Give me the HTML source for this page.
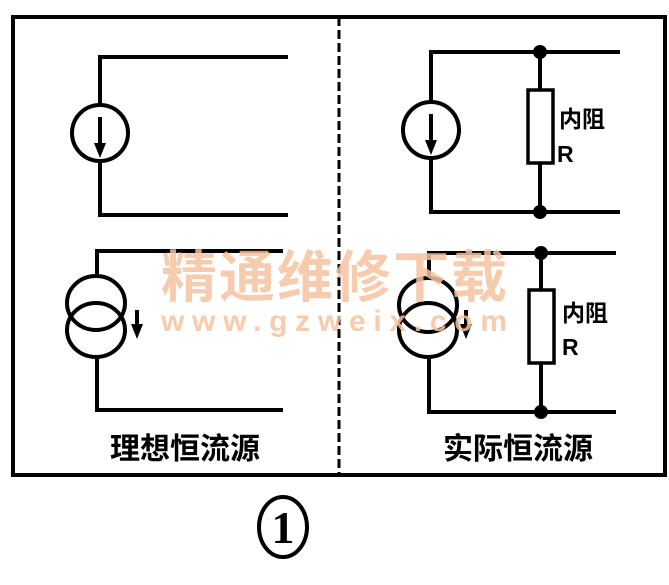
<!DOCTYPE html>
<html><head><meta charset="utf-8"><style>
html,body{margin:0;padding:0;background:#fff;width:669px;height:585px;overflow:hidden}
</style></head><body>
<svg width="669" height="585" viewBox="0 0 669 585" xmlns="http://www.w3.org/2000/svg">
<g fill="none" stroke="#000" stroke-width="4">
<rect x="13" y="17" width="652" height="458"/>
<line x1="339" y1="17" x2="339" y2="475" stroke-dasharray="9,4" stroke-width="3"/>
<polyline points="288,57 100,57 100,105"/>
<polyline points="100,161 100,215 288,215"/>
<ellipse cx="100" cy="133" rx="28" ry="28"/>
<line x1="100" y1="117" x2="100" y2="145"/>
<polyline points="283,251 97,251 97,276"/>
<polyline points="97,357 97,410 283,410"/>
<ellipse cx="96" cy="303" rx="29" ry="27"/>
<ellipse cx="96" cy="330" rx="29" ry="27"/>
<line x1="137" y1="310" x2="137" y2="326"/>
<polyline points="620,52 431,52 431,102"/>
<polyline points="431,158 431,212 620,212"/>
<ellipse cx="431" cy="130" rx="28" ry="28"/>
<line x1="431" y1="114" x2="431" y2="142"/>
<line x1="540" y1="52" x2="540" y2="90"/>
<rect x="528" y="90" width="25" height="73" stroke-width="3.5"/>
<line x1="540" y1="163" x2="540" y2="212"/>
<polyline points="616,253 429,253 429,278"/>
<polyline points="429,357 429,412 616,412"/>
<ellipse cx="428" cy="305" rx="29" ry="27"/>
<ellipse cx="428" cy="330" rx="29" ry="27"/>
<line x1="466" y1="310" x2="466" y2="326"/>
<line x1="541" y1="253" x2="541" y2="290"/>
<rect x="529" y="290" width="25" height="73" stroke-width="3.5"/>
<line x1="541" y1="363" x2="541" y2="412"/>
<ellipse cx="283" cy="527" rx="24" ry="30" stroke-width="4"/>
</g>
<g fill="#000">
<polygon points="94,143 106,143 100,158"/>
<polygon points="131,324 143,324 137,339"/>
<polygon points="425,140 437,140 431,155"/>
<polygon points="460,324 472,324 466,339"/>
<circle cx="540" cy="52" r="7"/><circle cx="540" cy="212" r="7"/>
<circle cx="541" cy="253" r="7"/><circle cx="541" cy="412" r="7"/>
</g>
<g font-family="Liberation Sans, Noto Sans CJK SC, sans-serif" font-weight="bold" fill="#000">
<text x="559" y="127" font-size="23">内阻</text>
<text x="557" y="162" font-size="23">R</text>
<text x="562" y="321" font-size="23">内阻</text>
<text x="562" y="355" font-size="23">R</text>
<text x="185" y="459" font-size="30" text-anchor="middle">理想恒流源</text>
<text x="518" y="459" font-size="30" text-anchor="middle">实际恒流源</text>
</g>
<text x="283" y="543" font-family="Liberation Serif, serif" font-weight="bold" font-size="46" text-anchor="middle" fill="#000">1</text>
<g fill="#f6c3a0" opacity="0.85" font-family="Liberation Sans, Noto Sans CJK SC, sans-serif" font-weight="bold">
<text x="334" y="297" font-size="56" text-anchor="middle" textLength="346">精通维修下载</text>
<text x="334" y="331" font-size="30" text-anchor="middle" textLength="346">www.gzweix.com</text>
</g>
</svg>
</body></html>
